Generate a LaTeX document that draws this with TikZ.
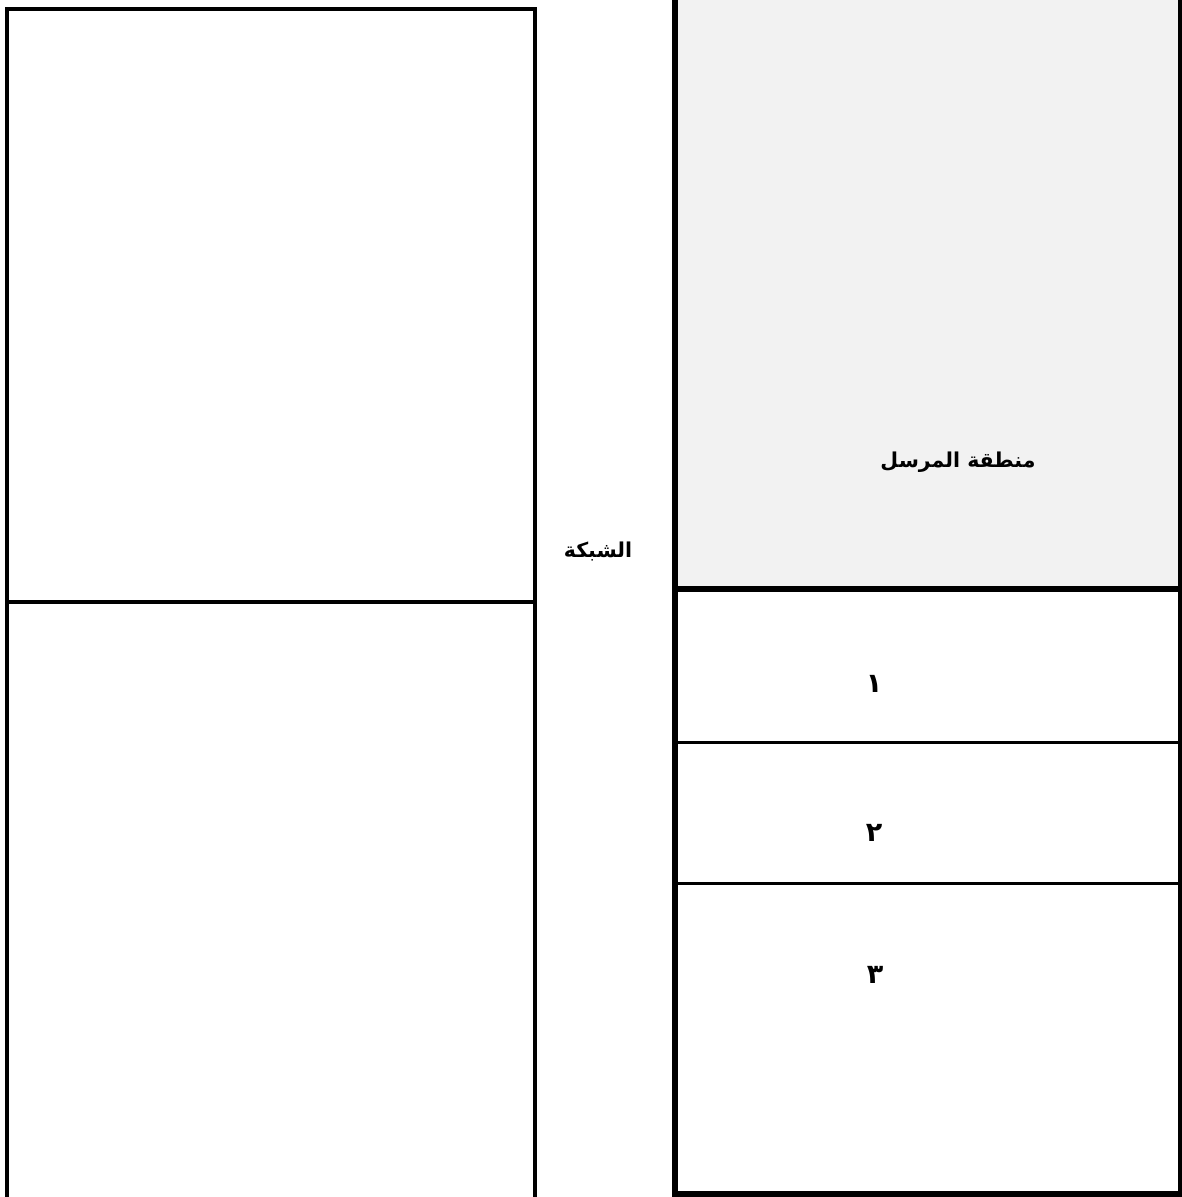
\documentclass[tikz,border=0pt]{standalone}
\usepackage{fontspec}
\newfontfamily\arabicfont[Script=Arabic]{DejaVu Sans}
\TeXXeTstate=1
\definecolor{boxgray}{HTML}{F2F2F2}
\tikzset{
  lbl/.style={font=\arabicfont\bfseries\fontsize{20.5}{24}\selectfont, inner sep=0pt, anchor=center},
  digit/.style={font=\arabicfont\bfseries\fontsize{27}{30}\selectfont, inner sep=0pt, anchor=center},
  thickline/.style={line width=6pt, draw=black},
  medline/.style={line width=4pt, draw=black},
  thinline/.style={line width=3pt, draw=black},
}
\begin{document}
\begin{tikzpicture}[x=1pt,y=-1pt]
\useasboundingbox (0,0) rectangle (1181,1197);
% right box fill
\fill[boxgray] (675,0) rectangle (1180,589);
% left box
\coordinate (lbl) at (7,1199);
\coordinate (ltl) at (7,9);
\coordinate (ltr) at (534.7,9);
\coordinate (lbr) at (534.7,1199);
\draw[medline] (lbl) -- (ltl) -- (ltr) -- (lbr);
\coordinate (ldl) at (7,602);
\coordinate (ldr) at (534.7,602);
\draw[medline] (ldl) -- (ldr);
% right box
\coordinate (rtl) at (675,-5);
\coordinate (rbl) at (675,1194);
\coordinate (rbr) at (1180.5,1194);
\coordinate (rtr) at (1180.5,-5);
\draw[thickline] (rtl) -- (rbl) -- (rbr) -- (rtr);
\coordinate (d1l) at (675,589);
\coordinate (d1r) at (1180.5,589);
\draw[thickline] (d1l) -- (d1r);
\coordinate (d2l) at (675,742);
\coordinate (d2r) at (1180.5,742);
\draw[thinline] (d2l) -- (d2r);
\coordinate (d3l) at (675,883);
\coordinate (d3r) at (1180.5,883);
\draw[thinline] (d3l) -- (d3r);
% labels
\node[lbl] (sender) at (958,462) {\beginR منطقة المرسل\endR};
\node[lbl] (network) at (598,551) {\beginR الشبكة\endR};
\node[digit] (one) at (874,684) {\beginR ١\endR};
\node[digit] (two) at (874,833) {\beginR ٢\endR};
\node[digit] (three) at (875,975) {\beginR ٣\endR};
\end{tikzpicture}
\end{document}
